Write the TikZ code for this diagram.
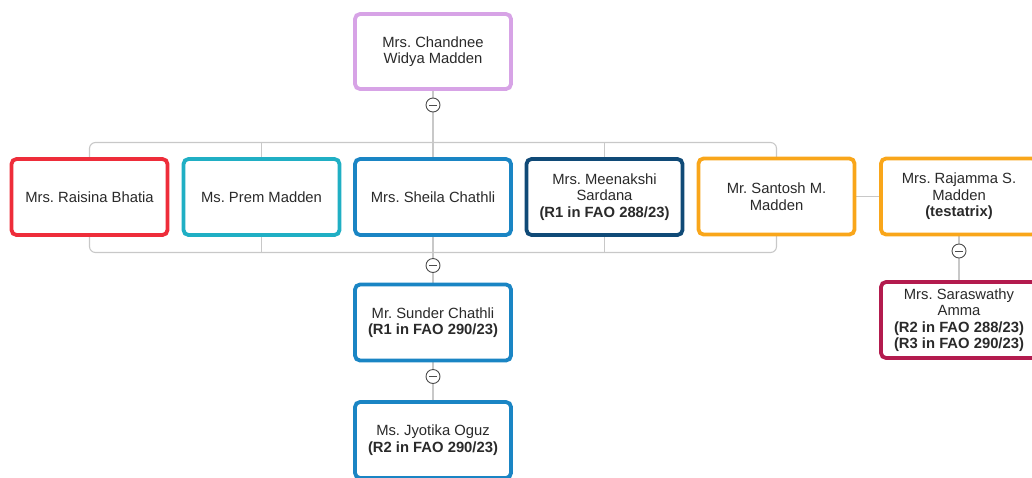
\documentclass[tikz,border=0pt]{standalone}
\usepackage{fontspec}
\setmainfont{Liberation Sans}
\usetikzlibrary{backgrounds}
\frenchspacing
\definecolor{cpurple}{HTML}{D7A3E6}
\definecolor{cred}{HTML}{EE2D3A}
\definecolor{cteal}{HTML}{20AFC4}
\definecolor{cblue}{HTML}{1A85C4}
\definecolor{cnavy}{HTML}{104A77}
\definecolor{corange}{HTML}{F9A61A}
\definecolor{ccrimson}{HTML}{B31B4E}
\definecolor{cline}{HTML}{C8C8C8}
\definecolor{ctext}{HTML}{2A2A2A}
\begin{document}
\begin{tikzpicture}[x=1pt,y=-1pt,
  person/.style={draw=#1, line width=3.8pt, rounded corners=5pt, fill=white,
    minimum width=156pt, minimum height=76pt, align=center, inner sep=0pt,
    text=ctext, font=\fontsize{14.8}{16.5}\selectfont\frenchspacing},
  conn/.style={draw=cline, line width=1.1pt},
  toggle/.style={circle, draw=black!70, line width=0.9pt, fill=white,
    minimum size=14pt, inner sep=0pt,
    path picture={\draw[black!70, line width=1pt]
      ([xshift=-3.8pt]path picture bounding box.center) --
      ([xshift=3.8pt]path picture bounding box.center);}}]
\useasboundingbox (0,0) rectangle (1032,477);
% nodes
\node[person=cpurple, minimum height=75pt] (top) at (433,51.5) {Mrs. Chandnee\\Widya Madden};
\node[person=cred] (raisina) at (89.5,197) {Mrs. Raisina Bhatia};
\node[person=cteal] (prem) at (261.5,197) {Ms. Prem Madden};
\node[person=cblue] (sheila) at (433,197) {Mrs. Sheila Chathli};
\node[person=cnavy] (meenakshi) at (604.5,197) {Mrs. Meenakshi\\Sardana\\\textbf{(R1 in FAO 288/23)}};
\node[person=corange] (santosh) at (776.5,196.5) {Mr. Santosh M.\\Madden};
\node[person=corange] (rajamma) at (959,196.5) {Mrs. Rajamma S.\\Madden\\\textbf{(testatrix)}};
\node[person=cblue] (sunder) at (433,322.5) {Mr. Sunder Chathli\\\textbf{(R1 in FAO 290/23)}};
\node[person=cblue] (jyotika) at (433,440) {Ms. Jyotika Oguz\\\textbf{(R2 in FAO 290/23)}};
\node[person=ccrimson] (saraswathy) at (959,320) {Mrs. Saraswathy\\Amma\\\textbf{(R2 in FAO 288/23)}\\\textbf{(R3 in FAO 290/23)}};
% coordinates
\coordinate (bt) at (433,142.5);
\coordinate (bb) at (433,252.5);
\node[toggle] (t1) at (433,105) {};
\node[toggle] (t2) at (433,265.5) {};
\node[toggle] (t3) at (433,376.5) {};
\node[toggle] (t4) at (959,251) {};
% connectors (behind)
\begin{scope}[on background layer]
  \draw[conn] (top) -- (t1) -- (bt);
  \draw[conn, rounded corners=6pt] (raisina.center |- bt) rectangle (santosh.center |- bb);
  \foreach \n in {prem, sheila, meenakshi}
    \draw[conn] (\n.center |- bt) -- (\n.center |- bb);
  \draw[conn] (bb) -- (t2) -- (sunder);
  \draw[conn] (sunder) -- (t3) -- (jyotika);
  \draw[conn] (santosh.east) -- (rajamma.west);
  \draw[conn] (rajamma) -- (t4) -- (saraswathy);
\end{scope}
\end{tikzpicture}
\end{document}
